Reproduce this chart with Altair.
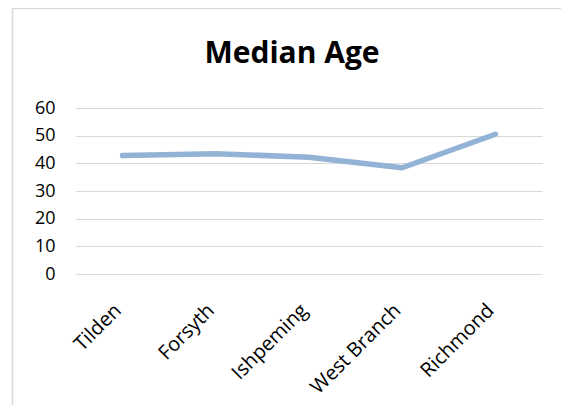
import altair as alt
import pandas as pd

places = ["Tilden", "Forsyth", "Ishpeming", "West Branch", "Richmond"]
median_age = [42.8, 43.5, 42.2, 38.4, 50.5]
y_ticks = [0, 10, 20, 30, 40, 50, 60]
title_text = "Median Age"

df = pd.DataFrame({"place": places, "age": median_age})

W, H = 466, 166

line = alt.Chart(df).mark_line(color="#93B3D6", strokeWidth=5.5, strokeCap="round", strokeJoin="round").encode(
    x=alt.X("place:N", sort=places, scale=alt.Scale(paddingInner=0, paddingOuter=0.5),
            axis=alt.Axis(title=None, labelAngle=-45, labelAlign="right", labelBaseline="middle",
                          labelFont="Open Sans", labelFontSize=20, labelColor="#000000",
                          labelPadding=33, labelOffset=-5, ticks=False, domain=False, grid=False)),
    y=alt.Y("age:Q", scale=alt.Scale(domain=[0, 60], nice=False),
            axis=alt.Axis(title=None, values=y_ticks, labelFont="Open Sans", labelFontSize=18,
                          labelColor="#000000", labelPadding=21, ticks=False, domain=False,
                          grid=True, gridColor="#D9D9D9", gridWidth=1.2)),
)

base1 = alt.Chart(df).transform_filter(alt.datum.place == "Tilden")

border = base1.mark_rect(fill=None, stroke="#D9D9D9", strokeWidth=1.5, clip=False).encode(
    x=alt.value(-63.5), x2=alt.value(700), y=alt.value(-99.5), y2=alt.value(500)
)

title = base1.mark_text(text=title_text, font="Open Sans", fontSize=30, fontWeight="bold",
                        color="#000000", align="center", baseline="alphabetic", clip=False).encode(
    x=alt.value(216), y=alt.value(-45)
)

chart = alt.layer(border, line, title).properties(
    width=W, height=H,
    autosize=alt.AutoSizeParams(type="none"),
    padding={"left": 68, "top": 100, "right": 19, "bottom": 131},
).configure_view(stroke=None)

chart.save("out.html", embed_options={"renderer": "svg", "actions": False})
